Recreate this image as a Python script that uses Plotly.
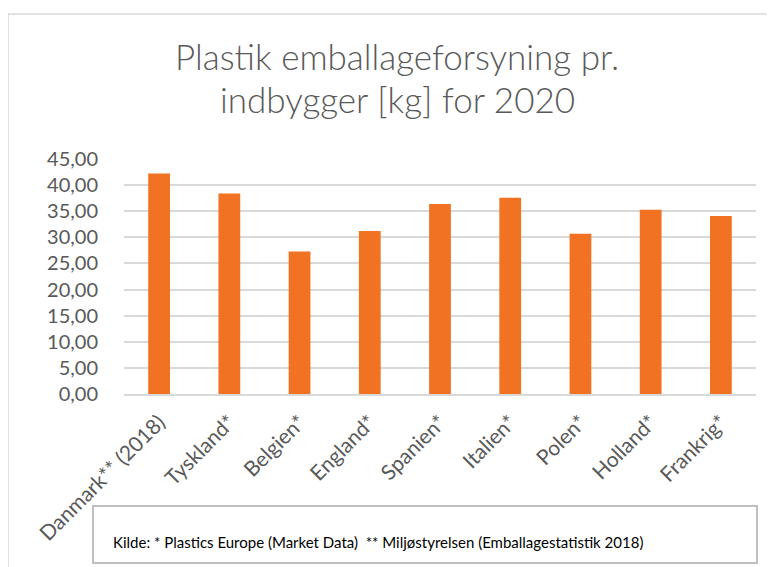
import plotly.graph_objects as go

countries = ["Danmark** (2018)", "Tyskland*", "Belgien*", "England*", "Spanien*",
             "Italien*", "Polen*", "Holland*", "Frankrig*"]
values = [42.2, 38.4, 27.3, 31.2, 36.4, 37.6, 30.7, 35.3, 34.1]
y_ticks = [0, 5, 10, 15, 20, 25, 30, 35, 40, 45]
y_tick_labels = [f"{v:.2f}".replace(".", ",") for v in y_ticks]

title_lines = ["Plastik emballageforsyning pr.", "indbygger [kg] for 2020"]
source_text = "Kilde: * Plastics Europe (Market Data)  ** Miljøstyrelsen (Emballagestatistik 2018)"

FONT = "Lato"
GREY = "#595959"

OFF = 8  # page body margin of the html page
W, H = 775 - OFF, 567 - OFF
# target plot area in page pixels: x 124..756, y 159..394
L = 124 - OFF
T = 159 - OFF
R = 775 - 756
B = 567 - 394
pw = W - L - R
ph = H - T - B

def px(x):  # page pixel -> paper x
    return (x - OFF - L) / pw

def py(y):  # page pixel -> paper y
    return (H - B - (y - OFF)) / ph

fig = go.Figure(go.Bar(
    x=countries, y=values,
    marker=dict(color="#F07222", line=dict(width=0)),
))

title_annots = [
    dict(text=t, xref="paper", yref="paper", x=px(397), y=py(yy),
         xanchor="center", yanchor="middle", showarrow=False,
         font=dict(family=FONT, size=35, color=GREY, weight=300))
    for t, yy in zip(title_lines, [56, 99])
]

fig.update_layout(
    width=W, height=H,
    margin=dict(l=L, r=R, t=T, b=B, autoexpand=False),
    paper_bgcolor="white", plot_bgcolor="white",
    bargap=0.69,
    showlegend=False,
    font=dict(family=FONT, color=GREY),
    xaxis=dict(tickangle=-45, tickfont=dict(family=FONT, size=21, color=GREY),
               showgrid=False, showline=True, linecolor="#d9d9d9", linewidth=1.5,
               ticks="", automargin=False, ticklabelstandoff=6),
    yaxis=dict(range=[0, 45], tickvals=y_ticks, ticktext=y_tick_labels,
               tickfont=dict(family=FONT, size=20, color=GREY),
               showgrid=True, gridcolor="#d9d9d9", gridwidth=1.5,
               zeroline=False, ticks="", ticklabelstandoff=25, automargin=False),
    shapes=[
        dict(type="line", xref="paper", yref="paper", x0=px(8), x1=px(8),
             y0=py(14), y1=py(600), line=dict(color="#d9d9d9", width=1.5)),
        dict(type="line", xref="paper", yref="paper", x0=px(8), x1=px(800),
             y0=py(14), y1=py(14), line=dict(color="#d9d9d9", width=1.5)),
        dict(type="rect", xref="paper", yref="paper", x0=px(93), x1=px(757),
             y0=py(563), y1=py(506), fillcolor="white",
             line=dict(color="#bfbfbf", width=2), layer="below"),
    ],
    annotations=title_annots + [
        dict(text=source_text, xref="paper", yref="paper", x=px(111), y=py(542),
             xanchor="left", yanchor="middle", showarrow=False,
             font=dict(family=FONT, size=15, color="#000000")),
    ],
)

fig.write_html("out.html")
